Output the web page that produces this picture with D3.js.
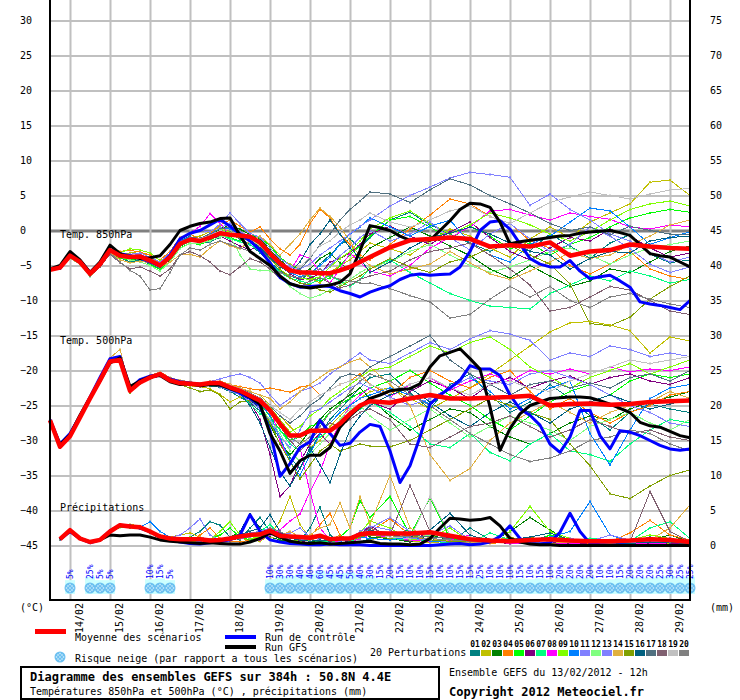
<!DOCTYPE html>
<html>
<head>
<meta charset="utf-8">
<script src="https://cdn.jsdelivr.net/npm/d3@7"></script>
<style>
body { margin: 0; background: #fff; }
svg { display: block; }
text { font-family: "DejaVu Sans Mono", monospace; font-size: 10px; fill: #000; }
</style>
</head>
<body>
<svg id="chart" width="740" height="700"></svg>
<script>
// GEFS run of 13/02/2012 12h, 50.8N 4.4E
// time steps (hours since run start)
const hours6 = d3.range(0, 385, 6);                                   // control + GFS
const hoursPert = d3.range(0, 193, 6).concat(d3.range(204, 385, 12)); // members + mean
const hoursPr6 = d3.range(6, 385, 6);
const hoursPrPert = d3.range(6, 193, 6).concat(d3.range(204, 385, 12));

const dayLabels = ["14/02","15/02","16/02","17/02","18/02","19/02","20/02","21/02","22/02","23/02","24/02","25/02","26/02","27/02","28/02","29/02"];
const tempTicks = [-45,-40,-35,-30,-25,-20,-15,-10,-5,0,5,10,15,20,25,30];
const precipTicks = [0,5,10,15,20,25,30,35,40,45,50,55,60,65,70,75];

const pertColors = ["#008080","#c0c000","#008000","#ff8000","#00ff00","#800080","#00ff80","#ff00ff","#80ff00","#0080ff",
                    "#8080ff","#80ff80","#8080ff","#e0b040","#80a000","#006080","#507080","#806070","#c0c0c0","#808080"];

// ensemble mean
const mean850 = [-5.6,-5.3,-3.6,-4.5,-6.2,-4.8,-2.8,-3.6,-3.8,-3.7,-4.3,-5.0,-3.8,-1.9,-1.3,-1.5,-1.0,-0.4,-0.6,-0.7,-0.9,-1.7,-3.3,-4.7,-5.7,-6.0,-6.0,-6.1,-6.1,-5.7,-5.2,-4.5,-3.8,
  -2.4,-1.4,-1.2,-1.0,-1.2,-2.3,-2.1,-2.3,-1.7,-3.6,-3.0,-2.8,-2.0,-2.3,-2.5,-2.6];
const mean500 = [-27.1,-30.9,-29.4,-26.7,-24.0,-21.4,-18.7,-18.5,-22.9,-21.7,-21.0,-20.5,-21.4,-21.8,-21.9,-22.0,-21.8,-21.8,-22.4,-22.9,-23.6,-24.3,-25.7,-27.6,-29.3,-29.3,-28.6,-28.6,-28.6,-27.6,-26.2,-25.0,-24.4,
  -24.6,-24.0,-23.5,-24.0,-24.0,-23.9,-23.8,-23.6,-25.0,-24.8,-24.7,-24.9,-24.8,-24.5,-24.4,-24.3];
const meanPrecip = [0.9,2.2,1.0,0.5,0.8,2.0,2.9,2.7,2.6,2.0,1.3,1.0,0.9,0.9,0.9,0.7,0.8,1.0,1.3,1.5,1.6,2.1,1.4,1.3,1.2,1.1,1.4,0.9,1.0,1.0,1.6,1.8,
  1.7,1.7,1.9,1.4,0.9,0.7,0.6,0.8,0.9,0.7,0.6,0.6,0.7,0.9,0.8,0.5];

// control run
const ctrl850 = [-5.5,-5.4,-3.4,-4.3,-6.0,-4.6,-2.9,-3.3,-3.6,-3.9,-4.5,-5.1,-3.5,-1.2,-0.4,0.0,0.8,1.6,0.6,-0.5,-1.5,-2.8,-4.6,-6.7,-7.6,-8.1,-8.0,-7.9,-8.0,-8.6,-9.0,-9.5,-8.8,
  -8.3,-7.9,-7.0,-6.4,-6.2,-6.4,-6.3,-6.2,-5.2,-3.0,0.0,1.2,1.4,0.2,-1.9,-4.0,-4.8,-5.2,-5.2,-4.3,-5.8,-6.9,-6.6,-6.4,-7.2,-8.1,-10.2,-10.5,-10.7,-11.0,-11.3,-10.0];
const ctrl500 = [-27.0,-30.5,-29.0,-26.5,-23.8,-21.0,-18.3,-18.0,-22.6,-21.3,-20.8,-20.6,-21.2,-21.6,-21.8,-22.0,-21.9,-22.0,-22.6,-23.2,-24.0,-25.0,
  -28.6,-35.1,-33.3,-31.0,-30.2,-27.1,-29.0,-30.7,-30.4,-28.8,-27.7,-28.0,-31.5,-36.0,-33.6,-29.5,-24.8,-23.5,-22.5,-21.4,
  -19.3,-19.8,-19.8,-20.7,-23.5,-25.5,-26.4,-27.8,-30.5,-31.7,-29.5,-25.7,-25.7,-29.3,-31.2,-28.6,-28.8,-29.3,-30.0,-30.7,-31.2,-31.4,-31.2];
const ctrlPrecip = [0.9,2.0,1.0,0.4,0.8,2.1,2.9,2.8,2.5,2.0,1.3,0.8,0.5,0.3,0.2,0.4,0.6,0.8,1.5,4.4,2.0,0.8,0.5,0.3,0.2,0.1,0.1,0.2,0.1,0.1,0.1,0.0,
  0.0,0.0,0.0,0.0,0.0,0.0,0.1,0.2,0.3,0.1,0.2,0.5,1.3,2.8,1.0,0.3,0.2,0.4,1.9,4.6,2.0,0.3,0.1,0.0,0.1,0.0,0.0,0.0,0.0,0.0,0.0,0.0];

// GFS operational run
const gfs850 = [-5.5,-5.0,-3.0,-4.2,-6.0,-4.5,-2.1,-3.3,-3.8,-4.0,-3.9,-3.6,-2.0,0.0,0.6,1.0,1.2,1.7,1.8,-0.7,-3.0,-4.0,-5.0,-6.5,-7.6,-8.0,-8.2,-8.0,-7.8,-7.4,-6.2,-2.9,0.7,
  0.4,0.0,-0.8,-1.4,-1.3,-1.4,0.0,1.4,3.0,3.9,3.8,3.3,1.2,-1.9,-1.6,-1.4,-1.2,-1.0,-0.8,-0.7,-0.4,-0.2,-0.1,0.0,-0.3,-0.7,-2.0,-3.3,-3.6,-3.8,-4.5,-5.2];
const gfs500 = [-27.2,-30.6,-29.2,-26.4,-23.9,-21.5,-18.9,-18.2,-22.3,-21.5,-20.9,-20.7,-21.6,-22.0,-21.9,-22.2,-22.0,-22.1,-22.6,-23.0,-23.8,-24.8,
  -29.0,-31.5,-34.7,-32.9,-32.1,-32.1,-31.0,-28.1,-26.5,-25.2,-24.0,-23.5,-22.9,-22.7,-22.6,-21.9,-19.5,-17.9,-17.4,-16.9,
  -18.3,-19.8,-25.2,-31.4,-28.3,-26.2,-25.0,-24.5,-24.0,-23.9,-23.8,-23.8,-23.9,-24.3,-24.8,-25.4,-26.0,-27.4,-27.9,-28.1,-28.7,-29.3,-29.6];
const gfsPrecip = [0.9,2.1,1.0,0.5,0.8,1.5,1.4,1.5,1.5,1.2,0.8,0.6,0.5,0.4,0.3,0.4,0.3,0.2,0.2,0.5,1.0,1.8,1.2,0.6,0.4,0.3,0.4,0.2,0.3,0.4,0.5,0.6,
  0.3,0.2,0.2,0.1,0.2,1.0,2.5,3.9,3.8,3.6,3.7,4.0,2.8,1.0,0.5,0.2,0.1,0.1,0.0,0.0,0.0,0.0,0.0,0.0,0.0,0.0,0.0,0.0,0.0,0.0,0.0,0.0];

// 20 perturbations, T850
const pert850 = [
  [-5.5,-5.2,-3.8,-4.6,-6.0,-4.9,-3.0,-3.9,-4.5,-4.2,-4.8,-5.5,-4.0,-1.5,-0.8,-1.9,-1.6,-1.0,-0.5,-1.2,-2.0,-3.2,-4.5,-5.8,-6.5,-7.0,-6.2,-4.8,-3.5,-2.0,-1.2,-2.5,-1.0, 1.5,2.6,0.8,-0.5,-1.8,-3.0,-1.6,-2.9,-0.5,-2.2,-4.0,-1.8,-0.6,-3.4,-4.6,-4.2],
  [-5.7,-5.4,-3.5,-4.4,-6.3,-4.6,-2.6,-3.4,-3.2,-3.0,-3.9,-4.6,-3.3,-1.6,-1.0,-0.8,-0.2,0.5,-0.2,-1.0,-1.5,-2.0,-3.0,-4.0,-4.8,-5.5,-6.8,-7.5,-6.0,-5.0,-4.2,-3.0,-1.8, -2.6,-3.5,-1.5,0.2,-0.8,-2.5,-3.8,-1.2,0.5,-1.0,1.2,2.5,3.8,6.9,7.2,5.0],
  [-5.6,-5.5,-3.7,-4.7,-6.5,-5.0,-3.1,-3.5,-3.6,-3.9,-4.6,-5.2,-4.2,-2.3,-1.5,-1.3,-0.6,0.2,0.8,0.2,-0.6,-1.2,-2.8,-4.2,-5.5,-6.2,-5.5,-4.0,-3.2,-4.6,-5.8,-4.2,-2.5, -1.0,0.5,-0.8,-2.2,-3.6,-5.5,-6.8,-5.0,-6.5,-8.0,-7.2,-5.5,-6.0,-4.5,-3.0,-2.2],
  [-5.4,-5.1,-3.4,-4.3,-6.1,-4.5,-2.5,-3.0,-2.8,-3.1,-3.5,-4.2,-3.0,-1.0,-0.5,-1.2,-0.4,0.8,1.5,0.6,-0.2,0.5,-1.2,-2.6,-3.5,-2.0,1.0,3.0,1.8,-0.5,-2.0,-3.5,-4.2, -2.0,0.2,2.2,4.5,3.8,2.0,1.0,-1.5,-2.5,-5.0,-6.2,-4.8,-3.0,-5.5,-6.5,-7.0],
  [-5.7,-5.3,-3.5,-4.8,-6.4,-5.1,-3.2,-4.0,-4.2,-4.0,-4.8,-5.6,-4.4,-2.5,-1.8,-2.0,-1.4,-0.6,-1.0,-1.5,-0.6,-1.0,-2.2,-3.8,-5.0,-5.6,-6.5,-7.2,-6.8,-5.0,-3.5,-2.2,-0.8, 1.5,2.0,0.5,-1.2,0.6,-0.8,-2.6,-1.8,-3.5,-2.0,-1.0,0.5,1.8,2.5,3.0,2.6],
  [-5.5,-5.3,-3.7,-4.5,-6.2,-4.7,-2.9,-3.7,-3.9,-3.5,-4.0,-4.9,-3.6,-2.0,-1.5,-1.4,-1.2,-0.8,-1.5,-2.2,-2.8,-2.0,-3.0,-4.8,-6.2,-7.0,-6.8,-6.2,-4.5,-4.0,-3.2,-2.0,-0.5, 0.6,-0.8,-2.0,-0.2,1.2,-1.0,-3.0,-4.2,-2.5,-1.0,-1.5,0.2,-0.8,-2.5,-3.8,-3.2],
  [-5.6,-5.4,-3.8,-4.6,-6.3,-4.9,-3.0,-3.8,-4.0,-3.8,-4.4,-5.4,-4.1,-2.2,-1.6,-1.5,-1.0,-0.7,-1.2,-1.6,-2.0,-3.0,-4.6,-6.0,-6.8,-7.2,-7.6,-7.0,-6.5,-7.2,-8.0,-7.0,-5.5, -4.2,-6.0,-7.5,-9.0,-10.0,-10.8,-11.0,-11.2,-9.0,-7.8,-6.5,-7.2,-5.8,-6.5,-7.5,-7.0],
  [-5.6,-5.2,-3.5,-4.4,-6.1,-4.7,-2.7,-3.4,-3.5,-3.6,-4.1,-4.7,-3.4,-1.4,-0.4,0.6,2.4,1.0,-0.5,-1.0,-1.2,-2.5,-3.8,-5.2,-5.8,-3.5,-4.0,-6.0,-7.5,-5.5,-3.2,-4.5,-5.8, -6.5,-5.0,-2.5,-1.0,0.5,2.8,3.0,2.2,1.5,2.5,2.0,1.6,0.5,0.2,0.8,0.5],
  [-5.5,-5.3,-3.6,-4.6,-6.2,-4.6,-2.8,-3.2,-2.6,-2.8,-3.2,-4.3,-3.6,-1.8,-1.2,-1.1,-0.5,0.2,-0.3,-0.9,-1.3,-2.3,-3.8,-5.6,-6.5,-6.8,-7.0,-6.6,-5.2,-4.0,-3.0,-1.5,0.2, 1.8,2.8,1.0,-0.5,0.8,2.5,1.8,0.8,-0.5,-1.5,-0.2,1.5,3.0,3.8,4.2,3.5],
  [-5.6,-5.4,-3.6,-4.5,-6.3,-4.8,-2.9,-3.6,-3.7,-3.8,-4.4,-5.1,-3.9,-1.6,-0.9,-1.2,-0.6,0.4,0.2,-0.4,-0.6,-1.5,-3.5,-5.0,-6.0,-6.6,-6.2,-5.0,-3.8,-2.0,-0.5,0.5,1.8, 0.5,-0.8,0.6,1.5,-1.8,-3.5,-4.5,-2.0,-0.8,1.2,3.2,2.8,0.5,-2.0,-1.0,-0.2],
  [-5.6,-5.3,-3.5,-4.4,-6.2,-4.7,-2.6,-3.5,-3.6,-3.4,-4.0,-4.8,-3.7,-1.9,-1.2,-1.3,-0.8,0.4,1.0,-0.2,-0.8,-1.5,-3.0,-4.5,-5.2,-5.5,-4.8,-3.5,-2.5,-1.5,-0.5,0.6,1.5, 3.5,5.0,6.2,7.5,8.3,8.0,7.6,3.6,5.2,3.0,1.5,-0.5,-1.5,-3.2,-4.5,-3.8],
  [-5.7,-5.5,-4.0,-4.8,-6.6,-5.2,-3.2,-3.8,-4.2,-4.5,-5.0,-5.8,-4.5,-2.6,-1.8,-1.8,-1.5,-0.9,-0.8,-3.5,-5.5,-5.7,-5.8,-6.5,-8.0,-9.0,-9.7,-9.2,-8.5,-7.8,-7.0,-6.0,-5.2, -4.5,-3.0,-2.0,-3.5,-5.0,-6.0,-5.2,-4.2,-3.0,-2.5,-3.5,-4.8,-3.5,-2.5,-2.0,-1.5],
  [-5.5,-5.2,-3.4,-4.3,-6.0,-4.4,-2.5,-3.3,-3.4,-3.2,-3.8,-4.5,-3.2,-1.2,-0.4,0.0,-0.2,0.9,2.5,1.0,-0.4,-1.0,-2.5,-4.0,-5.0,-5.8,-6.4,-6.0,-5.0,-3.6,-2.4,-1.0,0.0, -1.5,-0.5,1.2,-1.0,-2.8,-0.5,1.0,-1.2,-3.0,-2.0,0.5,-0.8,-2.6,-4.8,-6.0,-5.2],
  [-5.6,-5.4,-3.8,-4.7,-6.4,-5.0,-3.1,-4.2,-4.6,-4.4,-4.6,-5.2,-4.5,-3.5,-3.4,-3.8,-2.5,-1.5,-2.2,-2.6,-1.5,-0.8,-2.0,-3.5,-2.0,-0.5,1.5,3.2,2.0,0.5,-1.5,-3.8,-5.0, -6.2,-5.5,-4.8,-3.0,-4.6,-6.2,-7.0,-5.8,-4.5,-3.2,-4.0,-3.5,-2.0,-0.8,0.8,1.5],
  [-5.6,-5.3,-3.6,-4.5,-6.2,-4.9,-2.9,-3.7,-3.9,-3.8,-4.5,-5.3,-4.0,-2.0,-1.4,-1.6,-1.1,-0.5,-0.8,-1.0,-1.4,-2.6,-4.0,-5.5,-6.8,-7.5,-7.8,-8.5,-8.8,-8.0,-7.2,-6.5,-5.5, -4.0,-5.2,-6.0,-4.5,-3.8,-2.5,-2.2,-3.5,-4.8,-7.6,-13.3,-13.6,-12.4,-9.8,-8.0,-6.5],
  [-5.5,-5.3,-3.6,-4.4,-6.1,-4.7,-2.8,-3.6,-3.8,-3.7,-4.3,-5.0,-3.8,-1.8,-1.1,-1.3,-0.8,-0.1,-0.3,-0.9,-1.4,-2.4,-3.9,-5.2,-6.0,-4.5,-2.0,-0.5,1.5,-0.5,-2.5,-4.0,-6.0, -4.5,-2.5,-1.0,-0.4,0.5,-0.5,-1.8,-3.0,-3.5,-5.5,-4.0,-3.0,-3.2,-1.5,-1.0,-0.8],
  [-5.6,-5.4,-3.7,-4.6,-6.2,-4.8,-2.7,-3.5,-3.7,-3.6,-4.2,-4.9,-3.7,-1.7,-1.0,-1.1,-0.5,0.2,0.5,-0.4,-1.0,-2.0,-3.4,-5.0,-6.0,-5.5,-4.0,-2.0,-0.5,1.5,3.0,4.2,5.5, 5.2,4.0,5.8,7.4,6.5,5.0,3.8,2.5,1.0,0.0,0.5,-0.6,0.6,0.0,-0.5,-0.5],
  [-5.5,-5.4,-3.8,-4.7,-6.5,-5.2,-3.4,-4.6,-5.5,-5.2,-5.8,-6.5,-5.5,-3.5,-3.0,-3.6,-4.5,-5.8,-6.3,-5.2,-4.0,-4.5,-5.5,-6.8,-7.5,-8.0,-7.2,-6.8,-7.5,-8.2,-7.8,-7.0,-6.5, -5.8,-4.2,-3.0,-2.5,-1.8,-3.5,-5.5,-7.8,-11.5,-11.0,-9.5,-8.0,-8.5,-10.0,-11.5,-12.0],
  [-5.6,-5.3,-3.6,-4.5,-6.2,-4.8,-2.8,-3.7,-3.9,-3.6,-4.2,-4.9,-3.6,-1.7,-1.1,-1.2,-0.7,0.0,-0.4,-0.8,-1.2,-2.2,-3.6,-5.0,-5.8,-5.2,-3.8,-2.2,-1.5,-0.2,0.8,1.5,2.5, 1.2,0.5,1.5,2.8,3.5,2.0,1.0,2.5,4.0,4.8,5.5,5.0,4.5,5.2,5.8,6.0],
  [-5.6,-5.4,-3.8,-4.6,-6.4,-5.0,-3.2,-4.5,-5.7,-6.5,-8.5,-8.3,-6.0,-3.5,-2.5,-2.8,-2.0,-1.5,-2.0,-2.5,-3.0,-4.0,-5.2,-6.0,-6.5,-6.8,-6.0,-5.5,-6.5,-7.0,-7.2,-7.5,-7.5, -8.3,-9.3,-10.2,-12.5,-12.0,-9.8,-8.0,-9.5,-8.0,-10.0,-11.0,-9.5,-9.0,-9.8,-10.5,-11.0]
];

// 20 perturbations, T500
const pert500 = [
  [-27.0,-30.8,-29.3,-26.8,-24.1,-21.5,-18.8,-18.4,-22.6,-21.5,-20.9,-20.6,-21.3,-21.6,-21.7,-22.1,-22.2,-22.4,-23.0,-23.8,-24.6,-25.8,-27.5,-29.8,-32.5,-34.0,-31.5,-29.0,-27.0,-25.5,-24.0,-22.5,-21.0, -20.5,-23.2,-25.5,-22.0,-20.5,-23.5,-26.0,-24.5,-22.0,-24.0,-26.5,-28.5,-26.0,-24.8,-25.5,-26.0],
  [-27.2,-31.0,-29.5,-26.5,-23.8,-21.2,-18.5,-18.2,-23.0,-21.9,-21.2,-20.8,-21.6,-22.0,-22.2,-22.3,-22.6,-23.4,-24.5,-23.8,-23.0,-23.5,-25.0,-26.5,-28.0,-29.5,-31.0,-30.0,-28.0,-26.5,-25.0,-24.0,-23.0, -22.5,-24.0,-25.5,-24.0,-22.5,-20.5,-18.5,-16.5,-14.5,-13.2,-13.0,-13.5,-14.3,-17.5,-15.2,-15.8],
  [-27.1,-30.9,-29.4,-26.6,-23.9,-21.3,-18.6,-18.6,-23.1,-21.8,-21.1,-20.4,-21.5,-21.9,-22.0,-21.8,-21.6,-21.9,-22.5,-23.2,-24.2,-25.5,-27.8,-30.5,-32.0,-30.5,-28.5,-27.0,-25.5,-24.5,-23.5,-22.5,-24.0, -26.5,-28.5,-27.0,-25.5,-26.0,-28.0,-29.5,-30.5,-29.0,-27.5,-26.5,-27.0,-25.5,-24.5,-23.8,-23.0],
  [-27.0,-30.7,-29.2,-26.9,-24.2,-21.6,-18.9,-18.6,-22.8,-21.6,-20.8,-20.3,-21.2,-21.7,-21.8,-21.9,-21.7,-21.6,-22.0,-22.3,-22.6,-22.8,-22.5,-22.8,-23.1,-22.4,-22.1,-23.5,-22.8,-22.0,-21.5,-20.5,-22.0, -23.5,-21.0,-20.0,-21.5,-22.5,-21.0,-20.0,-23.0,-25.5,-24.0,-26.0,-27.5,-26.0,-25.0,-23.5,-23.0],
  [-27.2,-31.0,-29.5,-26.8,-24.0,-21.4,-18.7,-18.3,-22.7,-21.8,-21.1,-20.6,-21.4,-21.8,-21.9,-22.1,-21.9,-21.8,-22.3,-22.8,-23.5,-24.8,-26.5,-28.5,-30.0,-29.5,-28.0,-27.5,-26.0,-24.8,-24.0,-23.2,-22.5, -21.5,-20.0,-21.8,-23.5,-25.0,-27.0,-28.5,-26.5,-24.5,-23.0,-22.0,-23.5,-21.5,-20.5,-21.0,-20.5],
  [-27.1,-30.9,-29.3,-26.7,-24.1,-21.5,-18.8,-18.7,-22.9,-21.7,-21.0,-20.5,-21.4,-21.8,-21.9,-22.0,-21.9,-22.0,-22.6,-23.2,-24.5,-27.0,-32.0,-38.0,-36.5,-33.0,-30.5,-29.0,-30.5,-28.0,-26.0,-25.0,-24.5, -25.5,-23.0,-21.5,-22.5,-24.0,-22.0,-21.0,-22.5,-21.5,-20.8,-22.0,-21.0,-20.5,-21.5,-22.0,-21.0],
  [-27.0,-30.8,-29.4,-26.6,-23.9,-21.3,-18.6,-18.4,-22.8,-21.7,-21.0,-20.7,-21.5,-21.9,-22.0,-22.2,-22.0,-22.1,-22.8,-23.5,-24.8,-26.2,-27.0,-28.5,-30.5,-31.5,-30.0,-29.5,-28.5,-27.5,-26.5,-25.5,-24.5, -26.0,-28.0,-30.5,-31.0,-29.0,-31.7,-32.9,-30.5,-29.0,-31.5,-32.0,-33.0,-30.5,-28.5,-27.0,-27.5],
  [-27.2,-30.9,-29.5,-26.8,-24.0,-21.4,-18.8,-18.6,-23.0,-21.8,-21.2,-20.8,-21.6,-22.0,-22.1,-22.0,-21.8,-21.7,-22.2,-22.7,-23.2,-24.0,-25.0,-30.0,-33.0,-31.0,-37.4,-34.5,-30.5,-27.5,-25.0,-23.5,-22.5, -23.8,-22.0,-21.0,-22.8,-21.5,-20.5,-21.5,-20.0,-20.5,-19.8,-20.5,-19.5,-20.2,-19.8,-20.0,-19.5],
  [-27.1,-30.8,-29.3,-26.5,-23.8,-21.2,-18.5,-18.3,-22.7,-21.6,-20.9,-20.4,-21.3,-21.7,-21.8,-21.9,-21.6,-21.5,-22.1,-22.6,-23.3,-24.0,-25.2,-27.0,-28.8,-28.0,-26.5,-25.5,-24.0,-23.0,-22.0,-21.0,-20.0, -19.5,-18.0,-16.5,-17.5,-16.0,-15.2,-17.0,-19.5,-21.0,-22.5,-21.0,-20.0,-19.0,-20.5,-19.5,-18.5],
  [-27.0,-30.7,-29.3,-26.7,-24.0,-21.3,-18.6,-18.4,-22.8,-21.6,-20.9,-20.4,-21.3,-21.7,-21.9,-22.0,-21.8,-21.8,-22.3,-22.8,-23.6,-24.5,-26.5,-29.5,-33.0,-35.0,-32.0,-29.0,-27.5,-26.0,-25.0,-24.0,-23.5, -22.5,-23.5,-24.8,-22.5,-21.0,-23.0,-25.5,-24.0,-22.5,-21.5,-29.0,-33.5,-28.5,-24.0,-22.5,-22.0],
  [-27.1,-30.9,-29.4,-26.7,-24.0,-21.4,-18.7,-18.5,-22.9,-21.7,-21.0,-20.5,-21.4,-21.8,-21.9,-22.0,-21.6,-21.2,-20.8,-20.5,-21.0,-21.8,-23.5,-25.0,-24.0,-23.0,-22.5,-21.8,-20.5,-19.5,-18.5,-17.5,-18.5, -19.0,-17.5,-16.0,-17.0,-15.5,-14.3,-14.8,-15.7,-18.5,-17.5,-18.0,-16.5,-17.0,-18.0,-17.5,-18.0],
  [-27.1,-30.8,-29.4,-26.6,-23.9,-21.3,-18.7,-18.4,-22.7,-21.8,-21.1,-20.6,-21.5,-21.9,-22.0,-22.2,-22.0,-22.0,-22.6,-23.2,-24.0,-25.2,-27.0,-29.0,-31.5,-33.0,-32.0,-30.5,-29.0,-27.0,-25.5,-25.0,-26.5, -28.5,-27.0,-25.5,-27.5,-29.5,-28.0,-26.5,-27.5,-28.5,-30.0,-28.0,-27.0,-26.0,-27.5,-28.5,-27.0],
  [-27.2,-31.0,-29.5,-26.8,-24.1,-21.5,-18.8,-18.6,-23.0,-21.8,-21.1,-20.6,-21.5,-21.9,-22.0,-22.1,-22.0,-22.3,-22.9,-23.5,-24.4,-25.5,-27.2,-29.5,-31.0,-28.5,-26.0,-25.5,-24.5,-23.5,-22.5,-21.8,-22.5, -23.8,-25.0,-24.0,-22.5,-21.0,-21.5,-22.0,-20.5,-20.0,-21.0,-22.0,-23.5,-25.0,-26.0,-27.5,-28.0],
  [-27.0,-30.6,-29.0,-26.4,-23.7,-21.0,-18.2,-17.0,-22.5,-21.3,-20.7,-20.2,-21.0,-21.4,-21.6,-21.8,-21.6,-21.5,-22.0,-22.5,-23.0,-23.5,-24.0,-25.5,-24.5,-23.0,-22.0,-21.0,-20.0,-19.5,-18.8,-18.3,-19.5, -22.0,-25.0,-32.0,-35.7,-34.0,-30.0,-27.5,-26.0,-24.5,-26.0,-27.5,-26.0,-25.0,-24.5,-23.0,-24.0],
  [-27.1,-30.9,-29.4,-26.6,-24.0,-21.4,-18.7,-18.5,-23.2,-21.9,-21.2,-20.7,-21.6,-22.0,-22.5,-23.0,-22.8,-23.5,-25.5,-24.5,-24.3,-25.0,-27.5,-30.5,-33.0,-35.5,-33.5,-31.5,-30.5,-31.5,-31.0,-30.5,-30.8, -30.9,-30.0,-28.5,-27.0,-25.5,-24.0,-25.0,-26.0,-27.0,-30.5,-33.6,-37.6,-38.3,-36.5,-35.0,-34.2],
  [-27.1,-30.9,-29.4,-26.7,-24.0,-21.4,-18.7,-18.5,-22.9,-21.7,-21.0,-20.5,-21.4,-21.8,-21.9,-22.0,-21.9,-22.0,-22.5,-23.3,-25.0,-27.5,-31.0,-34.5,-36.5,-34.0,-31.0,-33.5,-36.0,-32.0,-28.5,-26.5,-25.0, -23.5,-22.5,-24.5,-26.5,-28.0,-26.0,-24.5,-26.0,-27.5,-25.5,-24.5,-23.5,-24.5,-25.5,-24.8,-24.0],
  [-27.0,-30.8,-29.3,-26.6,-23.9,-21.3,-18.6,-18.4,-22.8,-21.6,-20.9,-20.4,-21.3,-21.7,-21.8,-21.9,-21.7,-21.7,-22.2,-22.6,-23.2,-23.9,-25.0,-26.5,-27.5,-26.5,-25.0,-24.0,-22.5,-21.0,-20.5,-20.8,-19.5, -18.0,-16.5,-15.0,-18.5,-20.5,-22.0,-23.5,-22.0,-21.5,-22.5,-21.8,-22.5,-21.0,-20.5,-21.5,-20.0],
  [-27.2,-31.0,-29.5,-26.8,-24.1,-21.5,-18.8,-18.6,-23.0,-21.8,-21.1,-20.6,-21.5,-21.9,-22.0,-22.1,-21.9,-21.9,-22.5,-23.0,-23.8,-24.6,-26.0,-28.0,-30.0,-31.5,-30.0,-28.5,-27.5,-28.0,-27.0,-26.0,-25.5, -27.0,-30.5,-31.0,-29.5,-28.0,-27.5,-26.5,-28.0,-29.5,-28.5,-27.0,-28.0,-29.0,-28.5,-29.5,-30.0],
  [-27.0,-30.7,-29.2,-26.6,-23.8,-21.2,-18.5,-18.3,-22.6,-21.5,-20.8,-20.3,-21.2,-21.6,-21.7,-21.8,-21.6,-21.6,-22.1,-22.6,-23.3,-24.0,-25.0,-26.0,-27.0,-25.5,-24.5,-23.5,-22.8,-22.0,-21.5,-21.0,-22.0, -23.0,-22.0,-21.0,-22.5,-23.5,-22.0,-21.5,-22.5,-23.0,-21.5,-20.5,-19.5,-18.5,-19.0,-18.5,-18.0],
  [-27.1,-30.9,-29.4,-26.7,-24.0,-21.4,-18.7,-18.5,-22.9,-21.7,-21.0,-20.5,-21.4,-21.8,-21.9,-22.0,-21.8,-21.8,-22.4,-22.9,-23.6,-24.5,-26.0,-28.0,-29.5,-30.5,-29.5,-28.0,-26.0,-25.0,-23.0,-21.5,-20.5, -21.5,-23.5,-25.0,-27.0,-29.0,-30.5,-32.0,-33.0,-32.5,-31.5,-30.0,-29.5,-28.5,-29.0,-30.5,-31.5]
];

// 20 perturbations, precipitation (mm)
const pertPrecip = [
  [0.8,2.0,1.1,0.6,0.9,2.2,3.0,2.6,2.4,1.8,1.0,0.8,0.6,1.2,2.0,3.4,2.9,1.2,0.8,2.5,4.0,2.0,0.8,0.4,0.6,2.5,5.5,1.5,0.5,0.3,0.5,1.0, 0.8,2.5,1.0,0.5,2.5,0.8,0.3,0.5,1.5,0.8,0.4,0.2,0.5,1.2,0.6,0.3],
  [0.9,2.3,0.9,0.5,0.7,1.9,2.8,3.0,2.8,2.2,1.5,1.2,1.5,1.8,1.2,0.6,0.5,0.8,1.0,0.8,0.6,1.5,3.5,7.0,3.0,1.0,0.5,0.8,1.5,0.6,0.4,0.8, 1.5,0.6,0.4,0.3,0.2,0.6,1.2,0.5,0.3,0.2,0.5,0.3,0.2,0.4,0.3,0.2],
  [1.0,2.1,1.0,0.5,0.8,2.1,3.0,2.8,2.5,1.9,1.2,0.9,0.7,0.6,0.8,0.9,0.8,1.2,2.0,4.5,2.5,1.2,0.8,0.6,0.4,0.5,0.8,0.6,0.5,0.4,2.0,1.2, 1.0,0.5,1.5,0.8,0.5,0.4,2.0,4.0,2.2,0.6,0.3,0.2,0.3,0.8,1.5,0.5],
  [0.9,2.2,1.0,0.6,0.9,2.0,2.7,2.6,2.7,2.1,1.4,1.0,0.8,0.6,1.5,2.5,1.0,0.6,0.5,0.8,1.2,2.5,1.5,1.0,0.8,1.2,3.0,4.6,1.5,0.8,1.0,2.0, 3.8,1.5,0.6,0.8,0.5,0.3,0.5,0.2,0.4,0.6,0.3,0.5,1.8,3.6,1.5,0.8],
  [0.8,2.1,1.1,0.5,0.8,1.8,2.6,2.5,2.7,2.0,1.1,0.8,0.6,0.5,0.6,0.9,1.5,2.5,1.2,0.8,1.0,1.8,1.0,0.6,0.8,1.0,1.5,0.8,1.2,2.5,6.4,4.0, 7.0,1.5,6.8,1.0,0.5,0.8,0.4,0.3,1.5,0.8,0.5,0.4,0.3,0.8,0.5,0.6],
  [0.9,2.2,1.0,0.5,0.8,2.1,3.0,2.9,2.7,2.0,1.3,1.0,0.8,1.0,0.9,0.8,0.6,0.8,1.0,1.3,1.8,2.5,1.8,1.2,0.6,0.4,0.6,1.0,0.8,0.5,1.5,2.8, 1.2,0.6,2.0,1.0,0.8,0.5,0.3,0.6,0.4,0.3,0.2,0.4,0.6,0.3,0.2,0.5],
  [0.9,2.0,1.0,0.4,0.7,2.0,2.8,2.6,2.5,2.0,1.3,1.0,0.9,1.0,0.8,0.6,0.8,1.0,1.2,1.6,2.0,3.0,1.5,0.8,0.5,0.4,0.6,0.5,0.8,0.6,1.0,1.5, 1.0,0.8,0.6,0.4,0.3,1.8,0.8,0.6,0.9,0.5,1.0,0.8,0.6,2.5,3.4,1.0],
  [0.9,2.3,1.0,0.5,0.8,2.0,2.9,2.8,2.6,2.0,1.3,1.0,0.8,0.7,0.8,0.6,0.7,0.9,1.4,1.0,0.8,1.5,2.2,3.5,4.5,7.7,2.5,0.8,0.5,0.4,1.0,1.5, 1.2,0.8,0.5,0.8,1.5,0.6,0.3,0.4,0.3,0.2,0.5,0.4,0.3,0.2,0.4,0.3],
  [0.9,2.2,1.1,0.5,0.8,2.0,2.8,2.7,2.6,2.0,1.3,1.1,1.0,1.2,1.0,0.8,2.0,3.4,1.5,1.0,1.2,1.8,1.2,0.8,0.6,0.8,1.2,0.8,0.6,1.0,1.8,3.5, 2.5,0.8,1.0,2.5,0.6,0.5,2.0,5.6,2.0,1.0,0.5,0.4,0.8,1.5,1.0,0.6],
  [0.9,2.1,1.0,0.5,0.8,2.0,2.9,2.7,2.6,3.4,2.0,1.2,0.9,0.7,0.6,0.8,0.9,1.0,1.2,1.4,1.5,1.8,1.2,1.0,1.3,1.5,1.0,0.8,0.6,0.8,1.2,1.0, 0.8,1.2,0.6,0.5,0.4,0.6,0.5,0.8,1.2,2.0,6.3,1.5,0.6,0.8,1.0,0.5],
  [0.9,2.2,1.0,0.5,0.9,2.1,3.0,2.8,2.6,2.0,1.4,1.1,1.5,2.5,3.8,1.5,0.8,0.9,1.0,1.2,1.4,2.0,1.5,1.8,2.5,1.2,0.8,0.6,0.8,1.0,1.4,2.5, 4.0,2.0,1.5,2.8,0.8,0.5,0.6,0.5,1.0,0.8,0.6,1.5,0.8,0.5,0.6,0.4],
  [0.9,2.1,1.0,0.5,0.8,2.0,2.8,2.7,2.6,2.0,1.3,1.0,0.8,0.8,0.9,0.7,0.8,1.0,1.2,1.5,1.6,2.0,1.5,1.2,1.0,1.2,1.5,1.0,0.8,1.0,1.5,1.8, 1.2,1.0,1.5,1.2,0.6,0.5,0.8,1.0,0.6,0.5,0.4,0.6,0.8,1.0,0.6,0.4],
  [0.9,2.2,1.0,0.5,0.8,2.0,2.9,2.7,2.5,2.0,1.3,1.0,0.9,1.0,1.2,0.9,0.8,1.2,1.5,1.8,2.0,2.5,1.5,1.0,0.8,1.0,1.2,0.8,0.6,1.0,2.0,2.8, 2.2,1.0,0.8,0.5,0.4,0.8,0.6,0.5,0.4,1.0,0.6,0.5,0.4,0.6,0.5,0.3],
  [0.9,2.2,1.0,0.5,0.8,2.0,2.8,2.7,2.6,2.0,1.3,1.0,0.9,1.0,1.2,0.8,0.6,0.8,1.2,1.6,1.2,1.0,1.5,2.0,1.2,1.5,2.5,3.0,6.1,2.5,7.0,3.0, 10.0,2.5,1.0,0.6,0.4,0.5,0.6,0.4,0.3,0.5,0.8,0.6,0.5,0.8,2.5,5.8],
  [0.9,2.1,1.0,0.5,0.8,2.0,2.8,2.6,2.6,2.0,1.3,1.0,0.8,0.8,0.8,0.7,0.8,1.0,1.3,1.5,1.6,2.0,1.4,1.2,1.0,1.0,1.2,0.9,1.0,0.8,1.2,1.5, 1.0,1.5,0.8,0.6,0.5,0.6,0.8,1.2,0.6,0.5,0.4,0.5,0.6,0.8,0.6,0.4],
  [0.9,2.2,1.0,0.5,0.8,2.0,2.9,2.7,2.6,2.0,1.3,1.0,0.9,0.9,0.8,0.7,0.9,1.2,1.6,2.0,2.5,4.4,2.0,1.0,0.8,0.6,0.8,0.6,0.8,1.0,1.5,2.2, 1.5,1.2,2.2,4.6,1.5,0.6,0.8,1.2,1.8,0.8,0.6,0.4,0.3,0.5,0.4,0.3],
  [0.9,2.1,1.0,0.5,0.8,2.0,2.8,2.7,2.5,2.0,1.3,1.0,0.9,0.8,0.9,0.7,0.8,1.0,1.2,1.4,1.6,2.2,1.5,1.2,1.0,1.2,1.4,0.9,1.0,1.2,1.8,2.0, 1.6,1.5,1.2,1.0,0.8,0.6,0.5,0.8,0.6,0.5,0.4,0.6,0.5,0.8,1.0,0.6],
  [0.9,2.2,1.0,0.5,0.8,2.0,2.9,2.7,2.6,2.0,1.3,1.0,0.9,0.9,0.9,0.7,0.8,1.0,1.3,1.5,1.6,2.1,1.4,1.3,1.2,1.1,1.4,0.9,1.0,1.0,1.6,2.5, 1.5,8.6,2.0,0.8,0.6,0.5,0.4,0.6,0.8,0.5,0.4,0.3,0.5,7.7,2.0,0.6],
  [0.9,2.1,1.0,0.5,0.8,2.0,2.8,2.7,2.6,2.0,1.3,1.0,0.9,0.8,0.9,0.7,0.8,1.0,1.3,1.4,1.5,2.0,1.4,1.2,1.2,1.0,1.3,0.9,1.0,1.0,1.6,1.8, 1.2,1.0,7.0,1.5,0.6,0.5,0.6,0.8,0.6,0.5,0.4,0.5,0.6,0.8,0.6,0.4],
  [0.9,2.2,1.0,0.5,0.8,2.0,2.8,2.7,2.6,2.0,1.3,1.0,0.9,0.9,0.9,0.7,0.8,1.0,1.3,1.5,1.6,2.5,2.0,1.3,1.0,0.8,1.2,0.8,0.9,1.0,1.4,1.6, 1.4,1.2,1.0,0.8,0.6,0.5,0.6,0.8,0.7,0.5,0.4,0.5,0.6,0.8,0.6,0.4]
];

// snow risk (% of all scenarios)
const snowHours = [12,24,30,36,60,66,72].concat(d3.range(132, 385, 6));
const snowPct = [5,25,5,5,10,15,5,
  10,30,30,40,40,60,45,45,50,40,30,15,20,15,10,10,15,10,10,15,15,25,10,10,10,15,10,15,10,20,20,20,20,10,10,15,20,20,20,25,30,25,25];

// ---------------------------------------------------------------
const svg = d3.select("#chart");
const x = d3.scaleLinear().domain([0, 384]).range([50, 690]);
const yT = d3.scaleLinear().domain([-45, 30]).range([545.5, 20.5]);
const yP = d3.scaleLinear().domain([0, 75]).range([545.5, 20.5]);
const dayHours = dayLabels.map((d, i) => 12 + 24 * i);

// horizontal grid + left labels
const gLeft = svg.append("g").attr("transform", "translate(50,0)")
  .call(d3.axisLeft(yT).tickValues(tempTicks).tickSize(-640).tickPadding(0));
gLeft.select(".domain").remove();
gLeft.selectAll(".tick line")
  .attr("stroke", d => d === 0 ? "#808080" : "#c0c0c0")
  .attr("stroke-width", d => d === 0 ? 3 : 2);
gLeft.selectAll(".tick text").attr("x", -30).attr("text-anchor", "start")
  .style("font-family", '"DejaVu Sans Mono", monospace').style("font-size", "10px");

// vertical grid + date labels
const gBot = svg.append("g").attr("transform", "translate(0,600)")
  .call(d3.axisBottom(x).tickValues(dayHours).tickSize(-600).tickFormat((d, i) => dayLabels[i]));
gBot.select(".domain").remove();
gBot.selectAll(".tick line").attr("stroke", "#c0c0c0").attr("stroke-width", 2);
gBot.selectAll(".tick text")
  .attr("transform", "rotate(-90)").attr("x", -3).attr("y", 12).attr("dy", 0)
  .attr("text-anchor", "end")
  .style("font-family", '"DejaVu Sans Mono", monospace').style("font-size", "10px");

// right axis (precipitation)
const gRight = svg.append("g").attr("transform", "translate(690,0)")
  .call(d3.axisRight(yP).tickValues(precipTicks).tickSize(0).tickPadding(0));
gRight.select(".domain").remove();
gRight.selectAll(".tick text").attr("x", 20).attr("text-anchor", "start")
  .style("font-family", '"DejaVu Sans Mono", monospace').style("font-size", "10px");

// panel labels
svg.append("text").attr("x", 60).attr("y", 238).text("Temp. 850hPa");
svg.append("text").attr("x", 60).attr("y", 344).text("Temp. 500hPa");
svg.append("text").attr("x", 60).attr("y", 511).text("Précipitations");

// snow risk row
const snow = svg.append("g");
snow.selectAll("rect.bg").data(snowPct).enter().append("rect")
  .attr("x", (d, i) => x(snowHours[i]) - 5).attr("width", 10)
  .attr("y", d => 581 - d * 0.17).attr("height", d => 13 + d * 0.17)
  .attr("fill", "#ccffff");

function flake(g, cx, cy) {
  g.append("circle").attr("cx", cx).attr("cy", cy).attr("r", 5.5).attr("fill", "#6cc0f0");
  [[-2,-2],[2,-2],[-2,2],[2,2],[0,0],[-3.5,0],[3.5,0],[0,-3.5],[0,3.5]].forEach(o => {
    g.append("rect").attr("x", cx + o[0] - 0.7).attr("y", cy + o[1] - 0.7)
      .attr("width", 1.4).attr("height", 1.4).attr("fill", "#d8f0ff");
  });
}
snowHours.forEach(h => flake(snow, x(h), 588));
snow.selectAll("text").data(snowPct).enter().append("text")
  .attr("transform", (d, i) => "translate(" + (x(snowHours[i]) + 2.5) + ",579) rotate(-90)")
  .attr("text-anchor", "start").style("font-size", "8px").style("fill", "#0000ff")
  .text(d => d + "%");

// lines
const plot = svg.append("g");
function drawSeries(values, hours, yScale, color, width, markers) {
  const line = d3.line().x((d, i) => x(hours[i])).y(d => yScale(d));
  plot.append("path").datum(values)
    .attr("d", line).attr("fill", "none")
    .attr("stroke", color).attr("stroke-width", width)
    .attr("stroke-linejoin", "round")
    .attr("shape-rendering", markers ? "crispEdges" : "auto");
  if (markers) {
    plot.append("g").selectAll("rect").data(values).enter().append("rect")
      .attr("x", (d, i) => x(hours[i]) - 1).attr("y", d => yScale(d) - 1)
      .attr("width", 2).attr("height", 2).attr("fill", color);
  }
}
pert850.forEach((s, k) => drawSeries(s, hoursPert, yT, pertColors[k], 1, true));
pert500.forEach((s, k) => drawSeries(s, hoursPert, yT, pertColors[k], 1, true));
pertPrecip.forEach((s, k) => drawSeries(s, hoursPrPert, yP, pertColors[k], 1, true));

drawSeries(ctrl850, hours6, yT, "#0000ff", 3, false);
drawSeries(ctrl500, hours6, yT, "#0000ff", 3, false);
drawSeries(ctrlPrecip, hoursPr6, yP, "#0000ff", 3, false);
drawSeries(gfs850, hours6, yT, "#000000", 3, false);
drawSeries(gfs500, hours6, yT, "#000000", 3, false);
drawSeries(gfsPrecip, hoursPr6, yP, "#000000", 3, false);
drawSeries(mean850, hoursPert, yT, "#ff0000", 4.5, false);
drawSeries(mean500, hoursPert, yT, "#ff0000", 4.5, false);
drawSeries(meanPrecip, hoursPrPert, yP, "#ff0000", 4.5, false);

// frame
svg.append("line").attr("x1", 50).attr("x2", 50).attr("y1", 0).attr("y2", 601).attr("stroke", "#000").attr("stroke-width", 2);
svg.append("line").attr("x1", 690).attr("x2", 690).attr("y1", 0).attr("y2", 601).attr("stroke", "#000").attr("stroke-width", 2);
svg.append("line").attr("x1", 49).attr("x2", 691).attr("y1", 600).attr("y2", 600).attr("stroke", "#000").attr("stroke-width", 2);

svg.append("text").attr("x", 20).attr("y", 611).text("(°C)");
svg.append("text").attr("x", 710).attr("y", 611).text("(mm)");

// legend
svg.append("rect").attr("x", 35).attr("y", 629).attr("width", 31).attr("height", 5).attr("fill", "#ff0000");
svg.append("text").attr("x", 75).attr("y", 641).text("Moyenne des scénarios");
svg.append("rect").attr("x", 225).attr("y", 635).attr("width", 31).attr("height", 4).attr("fill", "#0000ff");
svg.append("text").attr("x", 265).attr("y", 641).text("Run de contrôle");
svg.append("rect").attr("x", 225).attr("y", 645).attr("width", 31).attr("height", 4).attr("fill", "#000000");
svg.append("text").attr("x", 265).attr("y", 651).text("Run GFS");
flake(svg, 60, 657);
svg.append("text").attr("x", 75).attr("y", 662).text("Risque neige (par rapport a tous les scénarios)");

svg.append("text").attr("x", 370).attr("y", 656).text("20 Perturbations");
const leg = svg.append("g");
leg.selectAll("rect").data(pertColors).enter().append("rect")
  .attr("x", (d, i) => 470 + 11 * i).attr("y", 650).attr("width", 10).attr("height", 6).attr("fill", d => d);
leg.selectAll("text").data(pertColors).enter().append("text")
  .attr("x", (d, i) => 475 + 11 * i).attr("y", 647).attr("text-anchor", "middle")
  .style("font-size", "8px").style("font-weight", "bold")
  .text((d, i) => String(i + 1).padStart(2, "0"));

svg.append("rect").attr("x", 21).attr("y", 667).attr("width", 418).attr("height", 32)
  .attr("fill", "#fff").attr("stroke", "#000").attr("stroke-width", 2);
svg.append("text").attr("x", 30).attr("y", 681).style("font-size", "12px").style("font-weight", "bold")
  .text("Diagramme des ensembles GEFS sur 384h : 50.8N 4.4E");
svg.append("text").attr("x", 30).attr("y", 695).text("Températures 850hPa et 500hPa (°C) , précipitations (mm)");
svg.append("text").attr("x", 449).attr("y", 676).text("Ensemble GEFS du 13/02/2012 - 12h");
svg.append("text").attr("x", 449).attr("y", 696).style("font-size", "12px").style("font-weight", "bold")
  .text("Copyright 2012 Meteociel.fr");
</script>
</body>
</html>
